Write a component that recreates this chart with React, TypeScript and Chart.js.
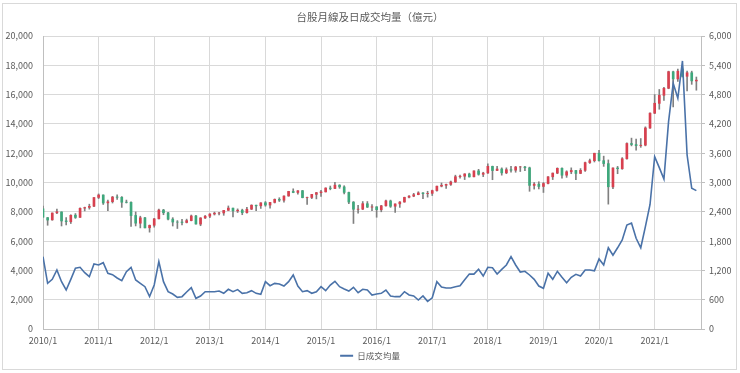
import React, { useEffect, useRef } from "react";
import { Chart, registerables } from "chart.js";

Chart.register(...registerables);

// Monthly TAIEX candles 2010/1 – 2021/10
const START_YEAR = 2010;

const OPEN = [
  8207, 7600, 7450, 7930, 7990, 7380, 7320, 7770, 7620, 8250, 8300, 8380,
  8980, 9150, 8610, 8690, 9010, 8990, 8660, 8650, 7750, 7220, 7590, 6910,
  7080, 7520, 8120, 7930, 7500, 7300, 7300, 7270, 7400, 7715, 7160, 7580,
  7700, 7850, 7910, 7920, 8100, 8250, 8060, 8110, 7940, 8180, 8450, 8410,
  8620, 8460, 8640, 8850, 8790, 9080, 9390, 9320, 9440, 8960, 8980, 9190,
  9300, 9360, 9620, 9590, 9820, 9700, 9320, 8660, 8170, 8180, 8550, 8320,
  8340, 8140, 8410, 8740, 8380, 8540, 8670, 8990, 9070, 9170, 9290, 9240,
  9260, 9450, 9750, 9810, 9870, 10040, 10400, 10430, 10580, 10390, 10790, 10560,
  10650, 11100, 10820, 10920, 10660, 10875, 10840, 11060, 11060, 11000, 9800, 9890,
  9730, 9930, 10390, 10640, 10970, 10500, 10730, 10820, 10620, 10830, 11360, 11490,
  12000, 11490, 11290, 9700, 10990, 10940, 11620, 12660, 12590, 12520, 12550, 13720,
  14730, 15400, 15950, 16430, 17560, 17070, 17750, 17250, 17490, 16930,
];

const HIGH = [
  8395, 7616, 7920, 8190, 8000, 7600, 7800, 7880, 8270, 8320, 8520, 8973,
  9220, 9152, 8800, 9050, 9160, 9040, 8800, 8680, 7990, 7700, 7620, 7100,
  7550, 8180, 8170, 7970, 7600, 7400, 7480, 7500, 7780, 7760, 7600, 7750,
  7870, 7980, 7960, 8100, 8400, 8260, 8200, 8180, 8300, 8480, 8460, 8620,
  8700, 8650, 8880, 8960, 9090, 9400, 9570, 9450, 9460, 9000, 9190, 9330,
  9470, 9640, 9760, 10014, 9850, 9780, 9350, 8700, 8440, 8700, 8700, 8500,
  8350, 8440, 8800, 8800, 8540, 8700, 9000, 9100, 9260, 9370, 9320, 9400,
  9480, 9750, 9970, 9900, 10100, 10500, 10513, 10600, 10640, 10800, 10900, 10700,
  11270, 11120, 11100, 11000, 11000, 11100, 11100, 11100, 11100, 11050, 10000, 10050,
  10000, 10400, 10650, 11000, 11000, 10800, 11000, 10830, 10950, 11400, 11600, 12000,
  12200, 11800, 11540, 11000, 11100, 11700, 12700, 13030, 12970, 13000, 13800, 14750,
  16000, 16350, 16500, 17600, 17600, 17750, 17900, 17600, 17600, 17200,
];

const LOW = [
  7640, 7080, 7420, 7870, 7032, 7100, 7200, 7550, 7610, 8060, 8180, 8350,
  8900, 8500, 8070, 8600, 8850, 8300, 8600, 7000, 7035, 6900, 6900, 6610,
  6950, 7520, 7800, 7450, 7030, 6860, 7100, 7240, 7380, 7160, 7050, 7540,
  7600, 7780, 7780, 7760, 8090, 7650, 7950, 7800, 7900, 8150, 8080, 8230,
  8380, 8240, 8600, 8700, 8650, 9060, 9300, 9200, 8950, 8500, 8900, 8880,
  9050, 9350, 9500, 9580, 9600, 9220, 8550, 7203, 7900, 8150, 8290, 8080,
  7627, 8000, 8380, 8300, 7950, 8300, 8650, 8950, 9030, 9160, 8900, 9000,
  9110, 9400, 9700, 9600, 9800, 10000, 10300, 10200, 10370, 10380, 10500, 10400,
  10620, 10190, 10800, 10500, 10600, 10700, 10700, 10750, 10800, 9400, 9550, 9560,
  9320, 9900, 10200, 10600, 10300, 10350, 10600, 10200, 10600, 10750, 11300, 11400,
  11450, 11100, 8523, 9580, 10600, 10900, 11600, 12500, 12200, 12400, 12500, 13700,
  14700, 15000, 15600, 16400, 15159, 16900, 17200, 16250, 16700, 16300,
];

const CLOSE = [
  7640, 7436, 7920, 8004, 7374, 7329, 7761, 7616, 8238, 8288, 8372, 8973,
  9146, 8600, 8683, 9008, 8989, 8653, 8644, 7741, 7225, 7588, 6904, 7072,
  7517, 8121, 7933, 7501, 7301, 7296, 7270, 7398, 7715, 7167, 7580, 7700,
  7850, 7907, 7919, 8094, 8254, 8062, 8108, 7936, 8174, 8450, 8406, 8612,
  8462, 8640, 8849, 8792, 9076, 9393, 9316, 9436, 8967, 8975, 9187, 9307,
  9362, 9622, 9586, 9820, 9701, 9323, 8665, 8174, 8181, 8554, 8320, 8338,
  8145, 8411, 8745, 8377, 8536, 8667, 8984, 9069, 9166, 9290, 9240, 9254,
  9448, 9750, 9812, 9872, 10040, 10395, 10427, 10585, 10384, 10794, 10560, 10643,
  11103, 10815, 10919, 10658, 10875, 10837, 11057, 11064, 11006, 9802, 9888, 9727,
  9932, 10389, 10641, 10968, 10498, 10731, 10824, 10618, 10830, 11358, 11490, 11997,
  11495, 11292, 9708, 10992, 10942, 11621, 12664, 12592, 12516, 12546, 13723, 14733,
  15410, 15953, 16431, 17567, 17068, 17600, 17247, 17490, 16935, 16987,
];

// Average daily turnover (億元)
const VOLUME = [
  1481, 935, 1017, 1208, 969, 799, 1017, 1243, 1263, 1153, 1072, 1331,
  1311, 1358, 1140, 1113, 1044, 990, 1174, 1263, 1003, 935, 867, 665,
  901, 1379, 969, 764, 717, 649, 662, 758, 846, 628, 676, 764,
  764, 764, 778, 731, 813, 764, 806, 731, 744, 785, 730, 710,
  969, 887, 935, 922, 880, 969, 1106, 880, 764, 785, 731, 764,
  867, 785, 901, 976, 867, 819, 778, 853, 744, 813, 799, 696,
  717, 731, 799, 676, 662, 662, 764, 696, 676, 594, 676, 567,
  638, 969, 860, 840, 840, 866, 887, 1010, 1126, 1123, 1225, 1085,
  1263, 1256, 1126, 1222, 1311, 1481, 1311, 1167, 1181, 1106, 1017, 880,
  833, 1140, 1017, 1181, 1058, 949, 1058, 1119, 1085, 1208, 1208, 1190,
  1434, 1311, 1663, 1512, 1663, 1823, 2130, 2170, 1857, 1663, 2098, 2550,
  3529, 3304, 3072, 4246, 5031, 4724, 5489, 3563, 2881, 2833,
];

const TITLE = "台股月線及日成交均量（億元）";
const LINE_LABEL = "日成交均量";

const FONT = '"Microsoft JhengHei", "Noto Sans CJK TC", "Noto Sans", sans-serif';
const TEXT = "#595959";
const GRID = "#d9d9d9";
const AXIS = "#bfbfbf";
const RED = "#d8404f";
const GREEN = "#3ea87c";
const WICK = "#808080";
const LINE = "#4a72a8";

export default function App() {
  const ref = useRef<HTMLCanvasElement>(null);

  useEffect(() => {
    const prevMargin = document.body.style.margin;
    document.body.style.margin = "0";
    const idx = CLOSE.map((_, i) => i);
    const chart = new Chart(ref.current as HTMLCanvasElement, {
      type: "bar",
      data: {
        datasets: [
          {
            type: "line",
            label: LINE_LABEL,
            data: idx.map((i) => ({ x: i, y: VOLUME[i] })),
            yAxisID: "y1",
            borderColor: LINE,
            backgroundColor: LINE,
            borderWidth: 1.6,
            pointRadius: 0,
            tension: 0,
            fill: false,
            order: 0,
          },
          {
            type: "bar",
            label: "body",
            data: idx.map((i) => ({ x: i, y: [OPEN[i], CLOSE[i]] })),
            backgroundColor: idx.map((i) => (CLOSE[i] >= OPEN[i] ? RED : GREEN)),
            barThickness: 2,
            grouped: false,
            yAxisID: "y",
            order: 1,
          },
          {
            type: "bar",
            label: "wick",
            data: idx.map((i) => ({ x: i, y: [LOW[i], HIGH[i]] })),
            backgroundColor: WICK,
            barThickness: 1,
            grouped: false,
            yAxisID: "y",
            order: 2,
          },
        ] as any,
      },
      options: {
        animation: false,
        responsive: false,
        devicePixelRatio: 1,
        layout: { padding: { left: 0, right: 0, top: 0, bottom: 3 } },
        plugins: {
          title: {
            display: true,
            text: TITLE,
            color: TEXT,
            font: { size: 10.5, family: FONT, weight: "normal" },
            padding: { top: 10.7, bottom: 12.7 },
          },
          legend: {
            display: true,
            position: "bottom",
            labels: {
              color: TEXT,
              font: { size: 8.5, family: FONT },
              boxWidth: 13,
              boxHeight: 2,
              padding: 6,
              generateLabels: () => [
                {
                  text: LINE_LABEL,
                  fillStyle: LINE,
                  strokeStyle: LINE,
                  lineWidth: 0,
                  hidden: false,
                  datasetIndex: 0,
                  fontColor: TEXT,
                } as any,
              ],
            },
          },
          tooltip: { enabled: false },
        },
        scales: {
          x: {
            type: "linear",
            min: 0,
            max: 142,
            offset: false,
            afterFit: (s: any) => {
              s.height = 16.5;
            },
            ticks: {
              stepSize: 12,
              maxTicksLimit: 20,
              includeBounds: false,
              autoSkip: false,
              maxRotation: 0,
              padding: 6,
              color: TEXT,
              font: { size: 9, family: FONT },
              callback: (v: any) => `${START_YEAR + Math.round(Number(v) / 12)}/1`,
            },
            grid: { color: GRID, drawTicks: false, offset: false },
            border: { color: AXIS },
          },
          y: {
            position: "left",
            min: 0,
            max: 20000,
            afterFit: (s: any) => {
              s.width = 43;
            },
            ticks: {
              stepSize: 2000,
              maxTicksLimit: 20,
              padding: 10,
              color: TEXT,
              font: { size: 9, family: FONT },
              callback: (v: any) => Number(v).toLocaleString("en-US"),
            },
            grid: { color: GRID, drawTicks: false },
            border: { color: AXIS },
          },
          y1: {
            position: "right",
            min: 0,
            max: 6000,
            afterFit: (s: any) => {
              s.width = 39;
            },
            ticks: {
              stepSize: 600,
              maxTicksLimit: 20,
              padding: 4,
              color: TEXT,
              font: { size: 9, family: FONT },
              callback: (v: any) => Number(v).toLocaleString("en-US"),
            },
            grid: { drawOnChartArea: false, drawTicks: true, tickLength: 4, color: AXIS },
            border: { color: AXIS },
          },
        },
      } as any,
    });
    return () => {
      chart.destroy();
      document.body.style.margin = prevMargin;
    };
  }, []);

  return (
    <div style={{ position: "fixed", left: 0, top: 0, width: 740, height: 373, background: "#fff" }}>
      <canvas ref={ref} width={740} height={373} style={{ display: "block", width: 740, height: 373 }} />
      <div
        style={{
          position: "absolute",
          left: 2,
          top: 3,
          width: 735,
          height: 367,
          border: "1px solid #d9d9d9",
          boxSizing: "border-box",
          pointerEvents: "none",
        }}
      />
    </div>
  );
}
